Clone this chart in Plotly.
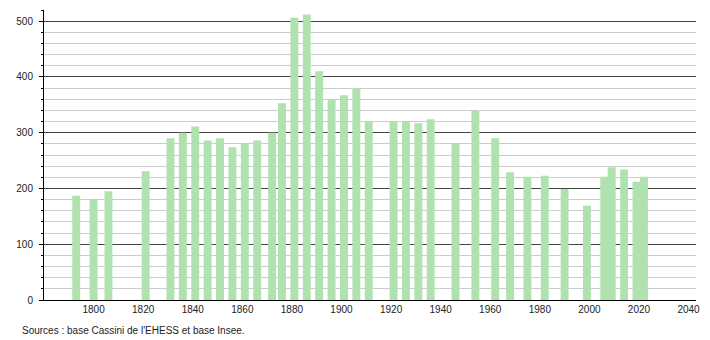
import plotly.graph_objects as go

years = [1793, 1800, 1806, 1821, 1831, 1836, 1841, 1846, 1851, 1856, 1861, 1866,
         1872, 1876, 1881, 1886, 1891, 1896, 1901, 1906, 1911, 1921, 1926, 1931,
         1936, 1946, 1954, 1962, 1968, 1975, 1982, 1990, 1999, 2006, 2009, 2014,
         2019, 2022]
population = [187, 180, 195, 231, 290, 300, 311, 286, 290, 274, 281, 286,
              300, 353, 506, 512, 410, 360, 367, 379, 319, 320, 320, 317,
              324, 281, 340, 290, 229, 221, 223, 199, 169, 221, 238, 234,
              212, 221]
x_ticks = [1800, 1820, 1840, 1860, 1880, 1900, 1920, 1940, 1960, 1980, 2000, 2020, 2040]
y_ticks = [0, 100, 200, 300, 400, 500]
source_text = "Sources : base Cassini de l'EHESS et base Insee."

FONT = "Liberation Sans, Arial, sans-serif"

fig = go.Figure()
fig.add_trace(go.Bar(
    x=years, y=population, width=3.2,
    marker=dict(color="rgb(176,226,176)", line=dict(width=0)),
    hoverinfo="x+y",
))

fig.update_layout(
    width=710, height=340,
    margin=dict(l=44, r=10, t=10, b=40),
    paper_bgcolor="white", plot_bgcolor="white",
    showlegend=False,
    font=dict(family=FONT, size=10, color="#222"),
    xaxis=dict(
        range=[1780, 2043], tickvals=x_ticks, ticktext=[str(v) for v in x_ticks],
        showgrid=False, zeroline=False, showline=True, linecolor="black", linewidth=1,
        ticks="", ticklabelstandoff=0,
    ),
    yaxis=dict(
        range=[0, 520], tickvals=y_ticks, showgrid=True, gridcolor="#444", gridwidth=1,
        zeroline=False, showline=True, linecolor="black", linewidth=1,
        ticks="outside", ticklen=4, tickcolor="black", ticklabelstandoff=4,
        minor=dict(dtick=20, showgrid=True, gridcolor="#cccccc", gridwidth=1,
                   ticks="outside", ticklen=2, tickcolor="black"),
    ),
    annotations=[dict(
        text=source_text, xref="paper", yref="paper", x=-24/656, y=-30/290,
        xanchor="left", yanchor="middle", showarrow=False,
        font=dict(family=FONT, size=10, color="#222"),
    )],
)

fig.write_html("out.html")
